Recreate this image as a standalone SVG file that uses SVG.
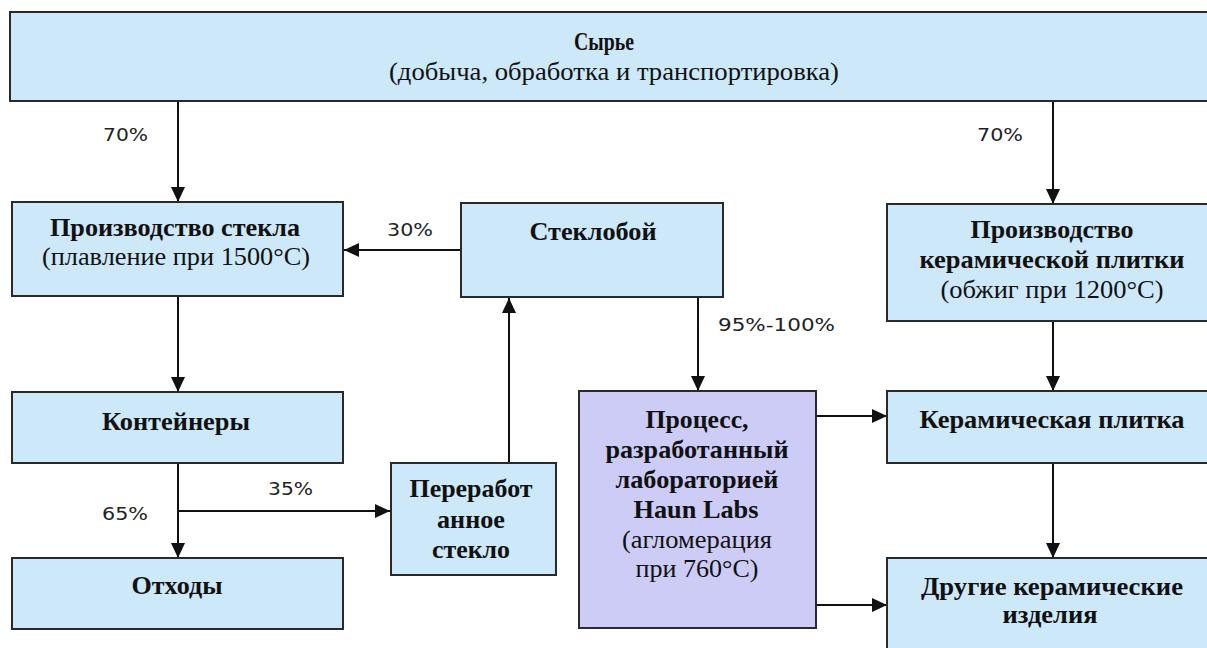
<svg xmlns="http://www.w3.org/2000/svg" width="1207" height="648" viewBox="0 0 1207 648">
<style>
.box{fill:#cce8f9;stroke:#2a2a2a;stroke-width:2}
.proc{fill:#ccccf7;stroke:#2a2a2a;stroke-width:2}
.t{font-family:"Liberation Serif","Times New Roman",serif;font-size:26px;fill:#111;text-anchor:middle}
.b{font-weight:bold}
.lbl{font-family:"DejaVu Sans","Liberation Sans",sans-serif;font-size:17px;fill:#222}
.c{fill:none;stroke:#111;stroke-width:2}
</style>
<defs>
<marker id="ah" markerUnits="userSpaceOnUse" markerWidth="16" markerHeight="14" refX="15" refY="7" orient="auto">
<path d="M0,0 L15,7 L0,14 z" fill="#111"/>
</marker>
</defs>
<rect width="1207" height="648" fill="#ffffff"/>
<g id="connectors">
<line class="c" x1="178" y1="102" x2="178" y2="202" marker-end="url(#ah)"/>
<line class="c" x1="1053" y1="102" x2="1053" y2="204" marker-end="url(#ah)"/>
<line class="c" x1="461" y1="250" x2="344" y2="250" marker-end="url(#ah)"/>
<line class="c" x1="509" y1="463" x2="509" y2="298" marker-end="url(#ah)"/>
<line class="c" x1="698" y1="297" x2="698" y2="391" marker-end="url(#ah)"/>
<line class="c" x1="178" y1="296" x2="178" y2="392" marker-end="url(#ah)"/>
<line class="c" x1="178" y1="463" x2="178" y2="558" marker-end="url(#ah)"/>
<line class="c" x1="178" y1="511" x2="390" y2="511" marker-end="url(#ah)"/>
<line class="c" x1="1053" y1="321" x2="1053" y2="391" marker-end="url(#ah)"/>
<line class="c" x1="1053" y1="463" x2="1053" y2="558" marker-end="url(#ah)"/>
<line class="c" x1="816" y1="416" x2="887" y2="416" marker-end="url(#ah)"/>
<line class="c" x1="816" y1="605" x2="887" y2="605" marker-end="url(#ah)"/>
<text class="lbl" x="103" y="141" textLength="45" lengthAdjust="spacingAndGlyphs">70%</text>
<text class="lbl" x="977" y="141" textLength="46" lengthAdjust="spacingAndGlyphs">70%</text>
<text class="lbl" x="387" y="236" textLength="46" lengthAdjust="spacingAndGlyphs">30%</text>
<text class="lbl" x="718" y="331" textLength="117" lengthAdjust="spacingAndGlyphs">95%-100%</text>
<text class="lbl" x="268" y="495" textLength="45" lengthAdjust="spacingAndGlyphs">35%</text>
<text class="lbl" x="102" y="520" textLength="46" lengthAdjust="spacingAndGlyphs">65%</text>
</g>
<g id="n-raw">
<rect class="box" x="10" y="12" width="1212" height="89"/>
<text class="t b" x="604" y="50" textLength="60" lengthAdjust="spacingAndGlyphs">Сырье</text>
<text class="t" x="614" y="80" textLength="450" lengthAdjust="spacingAndGlyphs">(добыча, обработка и транспортировка)</text>
</g>
<g id="n-glassprod">
<rect class="box" x="12" y="202" width="331" height="94"/>
<text class="t b" x="175" y="236" textLength="250" lengthAdjust="spacingAndGlyphs">Производство стекла</text>
<text class="t" x="176" y="265" textLength="268" lengthAdjust="spacingAndGlyphs">(плавление при 1500°С)</text>
</g>
<g id="n-cullet">
<rect class="box" x="461" y="203" width="262" height="94"/>
<text class="t b" x="593" y="240" textLength="127" lengthAdjust="spacingAndGlyphs">Стеклобой</text>
</g>
<g id="n-tileprod">
<rect class="box" x="887" y="204" width="335" height="117"/>
<text class="t b" x="1052" y="238" textLength="163" lengthAdjust="spacingAndGlyphs">Производство</text>
<text class="t b" x="1052" y="268" textLength="265" lengthAdjust="spacingAndGlyphs">керамической плитки</text>
<text class="t" x="1052" y="298" textLength="223" lengthAdjust="spacingAndGlyphs">(обжиг при 1200°С)</text>
</g>
<g id="n-containers">
<rect class="box" x="12" y="392" width="331" height="71"/>
<text class="t b" x="176" y="430" textLength="148" lengthAdjust="spacingAndGlyphs">Контейнеры</text>
</g>
<g id="n-waste">
<rect class="box" x="12" y="558" width="331" height="71"/>
<text class="t b" x="177" y="594" textLength="91" lengthAdjust="spacingAndGlyphs">Отходы</text>
</g>
<g id="n-recycled">
<rect class="box" x="391" y="463" width="165" height="112"/>
<text class="t b" x="471" y="497" textLength="123" lengthAdjust="spacingAndGlyphs">Переработ</text>
<text class="t b" x="471" y="528" textLength="68" lengthAdjust="spacingAndGlyphs">анное</text>
<text class="t b" x="471" y="558" textLength="78" lengthAdjust="spacingAndGlyphs">стекло</text>
</g>
<g id="n-process">
<rect class="proc" x="579" y="391" width="237" height="237"/>
<text class="t b" x="697" y="428" textLength="103" lengthAdjust="spacingAndGlyphs">Процесс,</text>
<text class="t b" x="697" y="458" textLength="183" lengthAdjust="spacingAndGlyphs">разработанный</text>
<text class="t b" x="697" y="488" textLength="163" lengthAdjust="spacingAndGlyphs">лабораторией</text>
<text class="t b" x="696" y="518" textLength="125" lengthAdjust="spacingAndGlyphs">Haun Labs</text>
<text class="t" x="697" y="548" textLength="150" lengthAdjust="spacingAndGlyphs">(агломерация</text>
<text class="t" x="697" y="577" textLength="123" lengthAdjust="spacingAndGlyphs">при 760°С)</text>
</g>
<g id="n-tile">
<rect class="box" x="887" y="391" width="335" height="72"/>
<text class="t b" x="1052" y="428" textLength="265" lengthAdjust="spacingAndGlyphs">Керамическая плитка</text>
</g>
<g id="n-other">
<rect class="box" x="887" y="558" width="335" height="102"/>
<text class="t b" x="1052" y="595" textLength="262" lengthAdjust="spacingAndGlyphs">Другие керамические</text>
<text class="t b" x="1050" y="623" textLength="95" lengthAdjust="spacingAndGlyphs">изделия</text>
</g>
</svg>
